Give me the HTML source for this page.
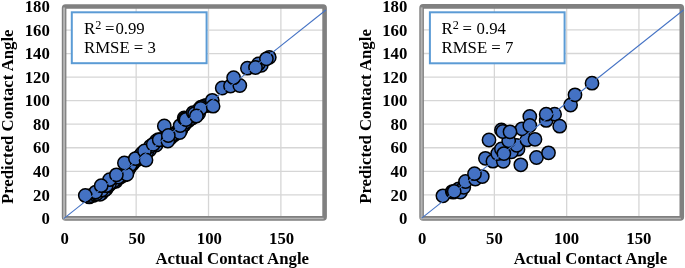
<!DOCTYPE html>
<html><head><meta charset="utf-8"><title>Predicted vs Actual Contact Angle</title>
<style>
html,body{margin:0;padding:0;background:#fff;}
svg{display:block;font-family:"Liberation Serif","Times New Roman",serif;}
.b{font-weight:bold;fill:#000;}
.r{fill:#000;}
circle{fill:#4472c4;stroke:#000;stroke-width:1.5;}
</style></head><body>
<svg width="685" height="268" viewBox="0 0 685 268">
<rect width="685" height="268" fill="#fff"/>
<g>
<line x1="136.16" y1="6.5" x2="136.16" y2="218.4" stroke="#d6d6d6" stroke-width="1.3"/>
<line x1="208.52" y1="6.5" x2="208.52" y2="218.4" stroke="#d6d6d6" stroke-width="1.3"/>
<line x1="280.88" y1="6.5" x2="280.88" y2="218.4" stroke="#d6d6d6" stroke-width="1.3"/>
<line x1="64.1" y1="194.86" x2="324.6" y2="194.86" stroke="#d6d6d6" stroke-width="1.3"/>
<line x1="64.1" y1="171.31" x2="324.6" y2="171.31" stroke="#d6d6d6" stroke-width="1.3"/>
<line x1="64.1" y1="147.77" x2="324.6" y2="147.77" stroke="#d6d6d6" stroke-width="1.3"/>
<line x1="64.1" y1="124.22" x2="324.6" y2="124.22" stroke="#d6d6d6" stroke-width="1.3"/>
<line x1="64.1" y1="100.68" x2="324.6" y2="100.68" stroke="#d6d6d6" stroke-width="1.3"/>
<line x1="64.1" y1="77.13" x2="324.6" y2="77.13" stroke="#d6d6d6" stroke-width="1.3"/>
<line x1="64.1" y1="53.59" x2="324.6" y2="53.59" stroke="#d6d6d6" stroke-width="1.3"/>
<line x1="64.1" y1="30.04" x2="324.6" y2="30.04" stroke="#d6d6d6" stroke-width="1.3"/>
<rect x="64.1" y="6.5" width="260.5" height="211.9" fill="none" stroke="#808080" stroke-width="4.6" rx="1.5"/>
<line x1="64.1" y1="7.5" x2="64.1" y2="219.3" stroke="#b4b4b4" stroke-width="2"/>
<line x1="63.1" y1="218.5" x2="323.6" y2="218.5" stroke="#b4b4b4" stroke-width="1.7"/>
<rect x="71.8" y="12.3" width="134.8" height="50.900000000000006" fill="#fff" stroke="#5b9bd5" stroke-width="2"/>
<text x="84.0" y="34.0" font-size="16.75" class="r">R<tspan font-size="12.2" dy="-5.1">2</tspan><tspan dy="5.1" dx="-0.4"> =</tspan><tspan dx="0.9">0.99</tspan></text>
<text x="84.0" y="53.2" font-size="16.75" class="r">RMSE = 3</text>
<circle cx="101.6" cy="193.2" r="6.65"/>
<circle cx="99.9" cy="194.3" r="6.65"/>
<circle cx="115.9" cy="181.3" r="6.65"/>
<circle cx="106.1" cy="188.9" r="6.65"/>
<circle cx="89.3" cy="196.9" r="6.65"/>
<circle cx="104.5" cy="190.2" r="6.65"/>
<circle cx="93.2" cy="195.4" r="6.65"/>
<circle cx="108.7" cy="185.6" r="6.65"/>
<circle cx="111.8" cy="182.8" r="6.65"/>
<circle cx="120.5" cy="176.9" r="6.65"/>
<circle cx="90.8" cy="195.6" r="6.65"/>
<circle cx="94.9" cy="194.2" r="6.65"/>
<circle cx="96.9" cy="193.6" r="6.65"/>
<circle cx="116.8" cy="179.0" r="6.65"/>
<circle cx="113.3" cy="181.3" r="6.65"/>
<circle cx="124.6" cy="174.9" r="6.65"/>
<circle cx="122.3" cy="175.6" r="6.65"/>
<circle cx="109.6" cy="183.3" r="6.65"/>
<circle cx="101.8" cy="190.0" r="6.65"/>
<circle cx="118.2" cy="177.2" r="6.65"/>
<circle cx="106.3" cy="185.7" r="6.65"/>
<circle cx="170.7" cy="137.7" r="6.65"/>
<circle cx="180.9" cy="129.7" r="6.65"/>
<circle cx="156.1" cy="145.0" r="6.65"/>
<circle cx="174.7" cy="134.4" r="6.65"/>
<circle cx="149.6" cy="150.0" r="6.65"/>
<circle cx="145.3" cy="153.6" r="6.65"/>
<circle cx="168.4" cy="138.9" r="6.65"/>
<circle cx="137.8" cy="159.3" r="6.65"/>
<circle cx="176.5" cy="132.5" r="6.65"/>
<circle cx="210.9" cy="104.4" r="6.65"/>
<circle cx="178.5" cy="130.8" r="6.65"/>
<circle cx="198.7" cy="113.4" r="6.65"/>
<circle cx="147.0" cy="151.2" r="6.65"/>
<circle cx="208.6" cy="105.3" r="6.65"/>
<circle cx="184.1" cy="124.9" r="6.65"/>
<circle cx="128.1" cy="170.1" r="6.65"/>
<circle cx="196.5" cy="115.1" r="6.65"/>
<circle cx="182.1" cy="126.7" r="6.65"/>
<circle cx="132.5" cy="164.1" r="6.65"/>
<circle cx="192.2" cy="118.0" r="6.65"/>
<circle cx="133.9" cy="162.0" r="6.65"/>
<circle cx="139.0" cy="157.0" r="6.65"/>
<circle cx="188.0" cy="121.0" r="6.65"/>
<circle cx="171.8" cy="134.8" r="6.65"/>
<circle cx="129.4" cy="167.8" r="6.65"/>
<circle cx="135.2" cy="159.8" r="6.65"/>
<circle cx="164.7" cy="138.6" r="6.65"/>
<circle cx="140.6" cy="155.2" r="6.65"/>
<circle cx="189.8" cy="119.1" r="6.65"/>
<circle cx="161.8" cy="139.5" r="6.65"/>
<circle cx="194.0" cy="116.1" r="6.65"/>
<circle cx="152.8" cy="144.8" r="6.65"/>
<circle cx="205.8" cy="105.5" r="6.65"/>
<circle cx="142.1" cy="153.2" r="6.65"/>
<circle cx="150.4" cy="146.3" r="6.65"/>
<circle cx="203.5" cy="106.3" r="6.65"/>
<circle cx="185.4" cy="122.0" r="6.65"/>
<circle cx="130.2" cy="164.9" r="6.65"/>
<circle cx="158.3" cy="139.6" r="6.65"/>
<circle cx="156.3" cy="141.1" r="6.65"/>
<circle cx="201.1" cy="107.1" r="6.65"/>
<circle cx="199.2" cy="109.3" r="6.65"/>
<circle cx="95.7" cy="192.1" r="6.65"/>
<circle cx="109.5" cy="179.7" r="6.65"/>
<circle cx="126.9" cy="174.3" r="6.65"/>
<circle cx="124.4" cy="163" r="6.65"/>
<circle cx="135.4" cy="158.6" r="6.65"/>
<circle cx="144.5" cy="151" r="6.65"/>
<circle cx="153.2" cy="144.3" r="6.65"/>
<circle cx="159.2" cy="139.8" r="6.65"/>
<circle cx="167.8" cy="141" r="6.65"/>
<circle cx="164.3" cy="125.9" r="6.65"/>
<circle cx="179.7" cy="132.5" r="6.65"/>
<circle cx="180.2" cy="125.6" r="6.65"/>
<circle cx="184.2" cy="118.0" r="6.65"/>
<circle cx="185.1" cy="118.8" r="6.65"/>
<circle cx="186" cy="119.5" r="6.65"/>
<circle cx="193.2" cy="112.6" r="6.65"/>
<circle cx="194.6" cy="113.6" r="6.65"/>
<circle cx="200.7" cy="108.4" r="6.65"/>
<circle cx="212.3" cy="100.3" r="6.65"/>
<circle cx="222.2" cy="88" r="6.65"/>
<circle cx="230.5" cy="86" r="6.65"/>
<circle cx="239.8" cy="85.5" r="6.65"/>
<circle cx="247.4" cy="68.2" r="6.65"/>
<circle cx="261.3" cy="65.3" r="6.65"/>
<circle cx="258.4" cy="63.9" r="6.65"/>
<circle cx="269.3" cy="57.3" r="6.65"/>
<circle cx="266.4" cy="58.8" r="6.65"/>
<circle cx="85.3" cy="195.4" r="6.65"/>
<circle cx="101.2" cy="185.7" r="6.65"/>
<circle cx="116.4" cy="174.8" r="6.65"/>
<circle cx="146" cy="160" r="6.65"/>
<circle cx="168.3" cy="135.5" r="6.65"/>
<circle cx="196.4" cy="116" r="6.65"/>
<circle cx="213.1" cy="106.2" r="6.65"/>
<circle cx="233.6" cy="77.7" r="6.65"/>
<circle cx="255.5" cy="67.5" r="6.65"/>
<line x1="63.7" y1="218.6" x2="325.9" y2="10" stroke="#4472c4" stroke-width="1.05"/>
<text x="49.8" y="224.10" text-anchor="end" font-size="16.75" class="b">0</text>
<text x="49.8" y="200.56" text-anchor="end" font-size="16.75" class="b">20</text>
<text x="49.8" y="177.01" text-anchor="end" font-size="16.75" class="b">40</text>
<text x="49.8" y="153.47" text-anchor="end" font-size="16.75" class="b">60</text>
<text x="49.8" y="129.92" text-anchor="end" font-size="16.75" class="b">80</text>
<text x="49.8" y="106.38" text-anchor="end" font-size="16.75" class="b">100</text>
<text x="49.8" y="82.83" text-anchor="end" font-size="16.75" class="b">120</text>
<text x="49.8" y="59.29" text-anchor="end" font-size="16.75" class="b">140</text>
<text x="49.8" y="35.74" text-anchor="end" font-size="16.75" class="b">160</text>
<text x="49.8" y="12.20" text-anchor="end" font-size="16.75" class="b">180</text>
<text x="64.60" y="243.6" text-anchor="middle" font-size="16.75" class="b">0</text>
<text x="136.96" y="243.6" text-anchor="middle" font-size="16.75" class="b">50</text>
<text x="209.32" y="243.6" text-anchor="middle" font-size="16.75" class="b">100</text>
<text x="281.68" y="243.6" text-anchor="middle" font-size="16.75" class="b">150</text>
<text transform="translate(13.0 116.8) rotate(-90)" text-anchor="middle" font-size="16.75" class="b">Predicted Contact Angle</text>
<text x="309" y="264.0" text-anchor="end" font-size="16.75" class="b">Actual Contact Angle</text>
</g>
<g>
<line x1="494.38" y1="6.4" x2="494.38" y2="218.4" stroke="#d6d6d6" stroke-width="1.3"/>
<line x1="566.66" y1="6.4" x2="566.66" y2="218.4" stroke="#d6d6d6" stroke-width="1.3"/>
<line x1="638.93" y1="6.4" x2="638.93" y2="218.4" stroke="#d6d6d6" stroke-width="1.3"/>
<line x1="421.6" y1="194.84" x2="681.8" y2="194.84" stroke="#d6d6d6" stroke-width="1.3"/>
<line x1="421.6" y1="171.29" x2="681.8" y2="171.29" stroke="#d6d6d6" stroke-width="1.3"/>
<line x1="421.6" y1="147.73" x2="681.8" y2="147.73" stroke="#d6d6d6" stroke-width="1.3"/>
<line x1="421.6" y1="124.18" x2="681.8" y2="124.18" stroke="#d6d6d6" stroke-width="1.3"/>
<line x1="421.6" y1="100.62" x2="681.8" y2="100.62" stroke="#d6d6d6" stroke-width="1.3"/>
<line x1="421.6" y1="77.07" x2="681.8" y2="77.07" stroke="#d6d6d6" stroke-width="1.3"/>
<line x1="421.6" y1="53.51" x2="681.8" y2="53.51" stroke="#d6d6d6" stroke-width="1.3"/>
<line x1="421.6" y1="29.96" x2="681.8" y2="29.96" stroke="#d6d6d6" stroke-width="1.3"/>
<rect x="421.6" y="6.4" width="260.19999999999993" height="212.0" fill="none" stroke="#808080" stroke-width="4.6" rx="1.5"/>
<line x1="421.6" y1="7.4" x2="421.6" y2="219.3" stroke="#b4b4b4" stroke-width="2"/>
<line x1="420.6" y1="218.5" x2="680.8" y2="218.5" stroke="#b4b4b4" stroke-width="1.7"/>
<rect x="429.9" y="12.3" width="134.70000000000005" height="51.0" fill="#fff" stroke="#5b9bd5" stroke-width="2"/>
<text x="441.5" y="34.0" font-size="16.75" class="r">R<tspan font-size="12.2" dy="-5.1">2</tspan><tspan dy="5.1" dx="-0.4"> =</tspan><tspan dx="0.4"> 0.94</tspan></text>
<text x="441.5" y="53.2" font-size="16.75" class="r">RMSE = 7</text>
<circle cx="442.9" cy="195.8" r="6.65"/>
<circle cx="452.3" cy="191.6" r="6.65"/>
<circle cx="453.2" cy="192.2" r="6.65"/>
<circle cx="458.7" cy="188.8" r="6.65"/>
<circle cx="460.5" cy="192" r="6.65"/>
<circle cx="463.8" cy="187.3" r="6.65"/>
<circle cx="465.5" cy="181.5" r="6.65"/>
<circle cx="475.3" cy="179" r="6.65"/>
<circle cx="482.3" cy="176.6" r="6.65"/>
<circle cx="485.4" cy="158.3" r="6.65"/>
<circle cx="492.9" cy="161.2" r="6.65"/>
<circle cx="503.3" cy="161.3" r="6.65"/>
<circle cx="497.7" cy="153.5" r="6.65"/>
<circle cx="501.4" cy="149" r="6.65"/>
<circle cx="518" cy="149.2" r="6.65"/>
<circle cx="511.5" cy="151.8" r="6.65"/>
<circle cx="489" cy="140" r="6.65"/>
<circle cx="516.7" cy="145.3" r="6.65"/>
<circle cx="508.7" cy="140.8" r="6.65"/>
<circle cx="526.9" cy="139.9" r="6.65"/>
<circle cx="520.8" cy="164.8" r="6.65"/>
<circle cx="536.5" cy="157.5" r="6.65"/>
<circle cx="548.5" cy="152.8" r="6.65"/>
<circle cx="501.4" cy="130" r="6.65"/>
<circle cx="502.8" cy="131.5" r="6.65"/>
<circle cx="522" cy="128.8" r="6.65"/>
<circle cx="529.8" cy="116.4" r="6.65"/>
<circle cx="546.2" cy="120.4" r="6.65"/>
<circle cx="554.6" cy="114.2" r="6.65"/>
<circle cx="570.6" cy="105.0" r="6.65"/>
<circle cx="575" cy="94.8" r="6.65"/>
<circle cx="592" cy="83.2" r="6.65"/>
<circle cx="454.2" cy="191.3" r="6.65"/>
<circle cx="474.5" cy="173.7" r="6.65"/>
<circle cx="503.9" cy="153.6" r="6.65"/>
<circle cx="535" cy="139.3" r="6.65"/>
<circle cx="510" cy="131.8" r="6.65"/>
<circle cx="529.8" cy="125.5" r="6.65"/>
<circle cx="546.2" cy="114.2" r="6.65"/>
<circle cx="559.7" cy="126.2" r="6.65"/>
<line x1="421.7" y1="218.1" x2="683.5" y2="10" stroke="#4472c4" stroke-width="1.05"/>
<text x="407.3" y="224.10" text-anchor="end" font-size="16.75" class="b">0</text>
<text x="407.3" y="200.54" text-anchor="end" font-size="16.75" class="b">20</text>
<text x="407.3" y="176.99" text-anchor="end" font-size="16.75" class="b">40</text>
<text x="407.3" y="153.43" text-anchor="end" font-size="16.75" class="b">60</text>
<text x="407.3" y="129.88" text-anchor="end" font-size="16.75" class="b">80</text>
<text x="407.3" y="106.32" text-anchor="end" font-size="16.75" class="b">100</text>
<text x="407.3" y="82.77" text-anchor="end" font-size="16.75" class="b">120</text>
<text x="407.3" y="59.21" text-anchor="end" font-size="16.75" class="b">140</text>
<text x="407.3" y="35.66" text-anchor="end" font-size="16.75" class="b">160</text>
<text x="407.3" y="12.10" text-anchor="end" font-size="16.75" class="b">180</text>
<text x="422.10" y="243.6" text-anchor="middle" font-size="16.75" class="b">0</text>
<text x="494.38" y="243.6" text-anchor="middle" font-size="16.75" class="b">50</text>
<text x="566.66" y="243.6" text-anchor="middle" font-size="16.75" class="b">100</text>
<text x="638.93" y="243.6" text-anchor="middle" font-size="16.75" class="b">150</text>
<text transform="translate(370.9 116.5) rotate(-90)" text-anchor="middle" font-size="16.75" class="b">Predicted Contact Angle</text>
<text x="667.2" y="264.0" text-anchor="end" font-size="16.75" class="b">Actual Contact Angle</text>
</g>
</svg>
</body></html>
